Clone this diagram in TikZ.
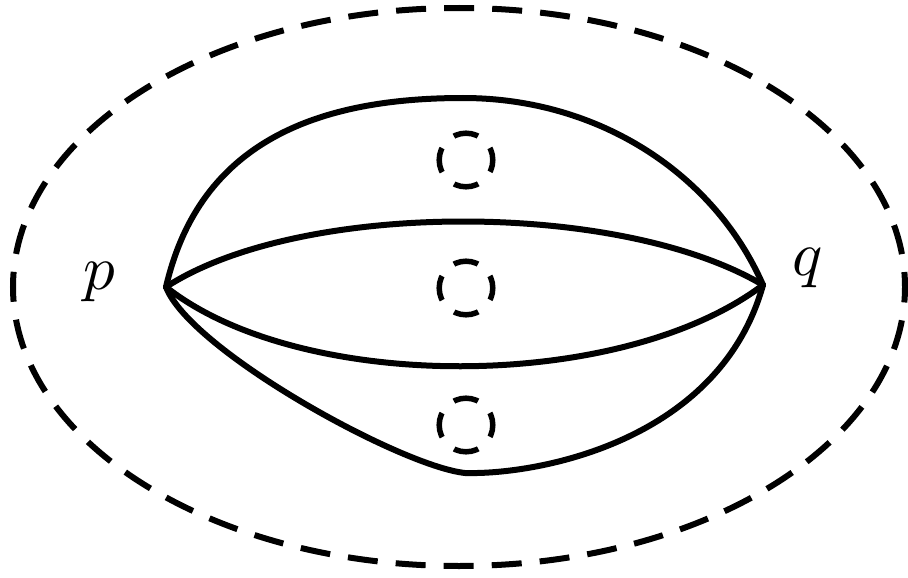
\documentclass[tikz,border=0pt]{standalone}
\begin{document}
\begin{tikzpicture}[x=1pt,y=-1pt,
  curve/.style={line width=6pt, line join=round, line cap=round},
  hole/.style={line width=5.5pt, dash pattern=on 25pt off 17.1pt, dash phase=12.5pt},
  outer/.style={line width=6pt, dash pattern=on 30pt off 18.08pt, dash phase=15pt},
  lab/.style={scale=6.3, inner sep=0pt, anchor=base}]
\useasboundingbox (0,0) rectangle (908,578);
% outer dashed ellipse
\draw[outer] (459,287) ellipse [x radius=446pt, y radius=279pt];
% small dashed holes
\draw[hole] (466,160) circle [radius=26.8pt];
\draw[hole] (466,288) circle [radius=26.8pt];
\draw[hole] (466,425) circle [radius=26.8pt];
% end points
\coordinate (P) at (166,287);
\coordinate (Q) at (763,285);
% curves
\draw[curve] (P) .. controls (200,140) and (320,98) .. (463,98) .. controls (600,98) and (715,175) .. (Q);
\draw[curve] (P) .. controls (300,200) and (620,200) .. (Q);
\draw[curve] (P) .. controls (300,393) and (620,393) .. (Q);
\draw[curve] (P) .. controls (190,350) and (400,466) .. (465,473) .. controls (540,475) and (720,440) .. (Q);
% labels
\node[lab] (plab) at (99,289) {$p$};
\node[lab] (qlab) at (808,275) {$q$};
\end{tikzpicture}
\end{document}
